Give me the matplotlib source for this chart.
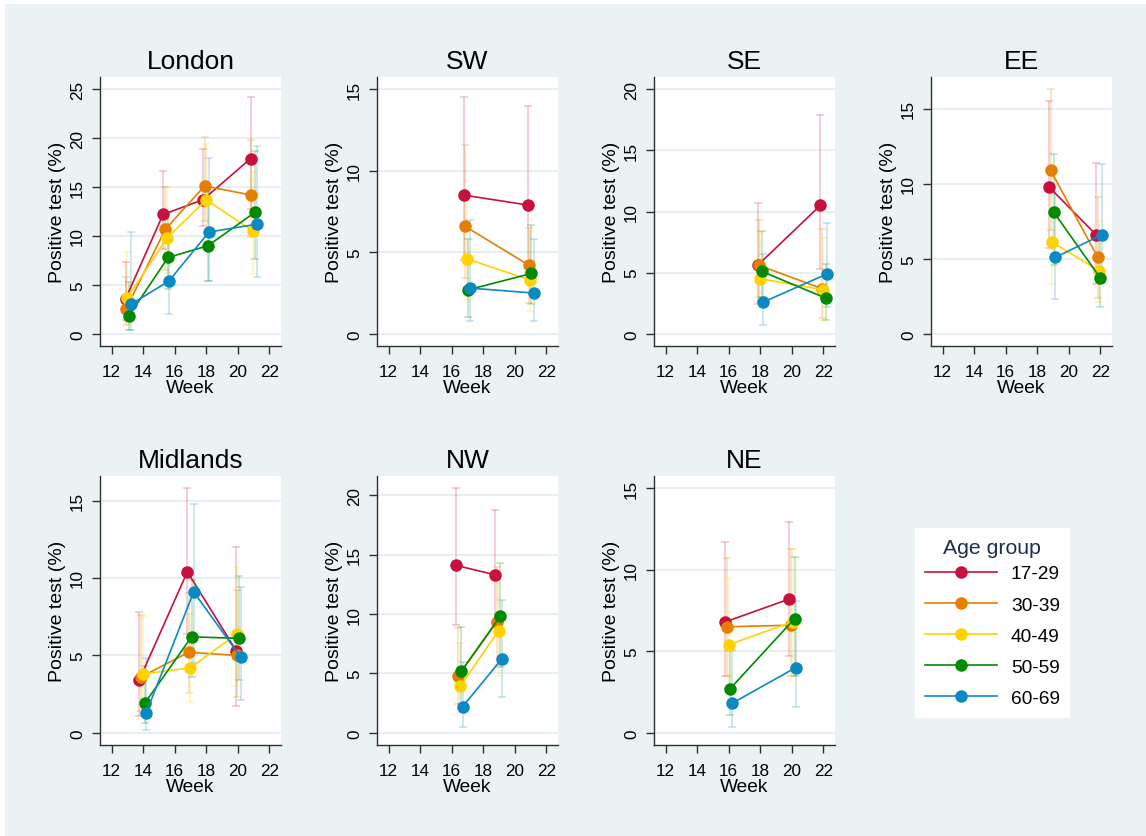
import matplotlib
matplotlib.use("Agg")
import matplotlib.pyplot as plt
from matplotlib.lines import Line2D
from matplotlib.patches import Rectangle

plt.rcParams['font.family'] = ['Liberation Sans', 'DejaVu Sans']

# ---------------- data ----------------
groups = ["17-29", "30-39", "40-49", "50-59", "60-69"]
colors = ["#C8103C", "#E67E00", "#FFD200", "#008A00", "#0A8AC4"]
regions = ["London", "SW", "SE", "EE", "Midlands", "NW", "NE"]
ytop_ticks = [25, 15, 20, 15, 15, 20, 15]
xticks = [12, 14, 16, 18, 20, 22]

# London
london_week = [[12.90, 15.26, 17.79, 20.80], [12.91, 15.41, 17.89, 20.80], [13.01, 15.52, 18.00, 20.95],
               [13.09, 15.58, 18.10, 21.07], [13.22, 15.64, 18.17, 21.20]]
london_pct = [[3.6, 12.2, 13.7, 17.9], [2.5, 10.7, 15.1, 14.2], [3.7, 9.8, 13.7, 10.5],
              [1.8, 7.8, 9.0, 12.4], [3.0, 5.4, 10.4, 11.2]]
london_lo = [[1.4, 8.7, 11.0, 12.8], [0.9, 6.5, 11.5, 9.9], [1.3, 6.2, 9.5, 6.1],
             [0.4, 4.6, 5.4, 7.6], [0.35, 2.0, 5.4, 5.8]]
london_hi = [[7.3, 16.6, 18.9, 24.2], [5.8, 15.0, 20.1, 19.8], [8.4, 15.0, 19.4, 16.5],
             [5.3, 12.3, 14.5, 18.7], [10.4, 11.2, 18.0, 19.2]]

# SW
sw_week = [[16.80, 20.80], [16.83, 20.90], [16.95, 20.95], [17.05, 21.05], [17.18, 21.18]]
sw_pct = [[8.5, 7.9], [6.6, 4.2], [4.6, 3.3], [2.7, 3.7], [2.8, 2.5]]
sw_lo = [[4.5, 3.8], [3.4, 1.9], [2.1, 1.4], [1.0, 1.8], [0.8, 0.8]]
sw_hi = [[14.5, 14.0], [11.6, 6.5], [8.5, 6.3], [5.8, 6.7], [7.0, 5.8]]

# SE
se_week = [[17.84, 21.80], [17.90, 21.90], [18.00, 22.00], [18.10, 22.17], [18.20, 22.24]]
se_pct = [[5.6, 10.5], [5.6, 3.7], [4.5, 3.6], [5.1, 2.9], [2.6, 4.9]]
se_lo = [[2.4, 5.3], [3.0, 1.3], [2.2, 1.1], [3.0, 1.1], [0.7, 2.2]]
se_hi = [[10.7, 17.9], [9.3, 8.6], [8.3, 7.8], [8.4, 5.7], [6.5, 9.1]]

# EE
ee_week = [[18.73, 21.72], [18.84, 21.83], [18.94, 21.93], [19.05, 22.00], [19.15, 22.10]]
ee_pct = [[9.8, 6.6], [10.9, 5.1], [6.1, 4.2], [8.1, 3.7], [5.1, 6.6]]
ee_lo = [[5.7, 3.3], [6.9, 2.4], [3.3, 2.1], [4.6, 1.8], [2.3, 3.4]]
ee_hi = [[15.5, 11.4], [16.3, 9.1], [11.0, 7.5], [12.0, 6.5], [9.5, 11.3]]

# Midlands
mid_week = [[13.75, 16.80, 19.90], [13.85, 16.88, 19.94], [14.00, 16.99, 19.96],
            [14.10, 17.07, 20.06], [14.20, 17.20, 20.17]]
mid_pct = [[3.4, 10.4, 5.3], [3.6, 5.2, 5.0], [3.8, 4.2, 6.4], [1.9, 6.2, 6.1], [1.3, 9.1, 4.9]]
mid_lo = [[1.1, 6.4, 1.7], [1.4, 2.6, 2.3], [1.6, 2.0, 3.0], [0.65, 3.6, 3.4], [0.15, 4.5, 2.1]]
mid_hi = [[7.8, 15.8, 12.0], [7.6, 9.0, 9.2], [7.5, 7.7, 10.7], [4.3, 9.9, 10.1], [4.8, 14.8, 9.4]]

# NW
nw_week = [[16.27, 18.76], [16.42, 18.84], [16.53, 18.97], [16.61, 19.07], [16.69, 19.16]]
nw_pct = [[14.1, 13.3], [4.8, 9.3], [3.9, 8.6], [5.2, 9.8], [2.2, 6.2]]
nw_lo = [[9.1, 9.0], [2.4, 5.7], [1.7, 4.8], [2.4, 5.5], [0.5, 3.0]]
nw_hi = [[20.6, 18.8], [8.8, 14.0], [7.6, 13.5], [8.9, 14.3], [6.0, 11.2]]

# NE
ne_week = [[15.77, 19.83], [15.88, 19.96], [15.99, 20.04], [16.09, 20.17], [16.20, 20.25]]
ne_pct = [[6.8, 8.2], [6.5, 6.6], [5.4, 6.8], [2.7, 7.0], [1.8, 4.0]]
ne_lo = [[3.5, 4.7], [3.5, 3.5], [2.5, 3.5], [1.1, 3.5], [0.35, 1.6]]
ne_hi = [[11.7, 12.9], [10.7, 11.3], [9.5, 11.3], [5.1, 10.8], [5.1, 8.1]]

panel_data = [
    (london_week, london_pct, london_lo, london_hi),
    (sw_week, sw_pct, sw_lo, sw_hi),
    (se_week, se_pct, se_lo, se_hi),
    (ee_week, ee_pct, ee_lo, ee_hi),
    (mid_week, mid_pct, mid_lo, mid_hi),
    (nw_week, nw_pct, nw_lo, nw_hi),
    (ne_week, ne_pct, ne_lo, ne_hi),
]

# ---------------- layout ----------------
W, H = 1146, 837
BG = "#EAF2F3"
fig = plt.figure(figsize=(W / 100, H / 100), dpi=100, facecolor="white")
fig.patches.append(Rectangle((5 / W, 0), 1, (H - 5) / H, transform=fig.transFigure,
                             facecolor=BG, edgecolor="none", zorder=-10))

col_left = [100, 377, 654, 931]
row_top = [78, 477]
aw, ah = 181, 269

spine_col = "#303030"
for i, name in enumerate(regions):
    r, c = divmod(i, 4)
    left = col_left[c]
    top = row_top[r]
    ax = fig.add_axes([left / W, 1 - (top + ah) / H, aw / W, ah / H])
    ax.set_facecolor("white")
    week, pct, lo, hi = panel_data[i]

    for g in range(len(groups)):
        yerr_lo = [p - l for p, l in zip(pct[g], lo[g])]
        yerr_hi = [h - p for p, h in zip(pct[g], hi[g])]
        ax.errorbar(week[g], pct[g], yerr=[yerr_lo, yerr_hi], fmt="none",
                    ecolor=colors[g], alpha=0.22, elinewidth=1.3, capsize=3.2,
                    capthick=1.3, zorder=2)
    for g in range(len(groups)):
        ax.plot(week[g], pct[g], "-o", color=colors[g], lw=1.2, ms=9,
                markeredgewidth=0, zorder=3 + g)

    top_tick = ytop_ticks[i]
    rng = max(top_tick, max(max(h) for h in hi))
    ax.set_ylim(-0.05 * rng, 1.05 * rng)
    ax.set_yticks(list(range(0, top_tick + 1, 5)))
    ax.set_xlim(11.27, 22.73)
    ax.set_xticks(xticks)
    ax.grid(axis="y", color="#E4EEF0", lw=1.3, zorder=0)
    ax.set_axisbelow(True)
    for s in ["top", "right"]:
        ax.spines[s].set_visible(False)
    for s in ["left", "bottom"]:
        ax.spines[s].set_color(spine_col)
        ax.spines[s].set_linewidth(1.0)
    ax.tick_params(axis="both", length=5.8, width=1.0, color=spine_col,
                   labelsize=12.3, labelcolor="black")
    ax.tick_params(axis="y", labelrotation=90, pad=5)
    ax.tick_params(axis="x", pad=7)
    for lab in ax.get_yticklabels():
        lab.set_va("center")
    ax.set_title(name, fontsize=19, pad=6.5)
    ax.set_xlabel("Week", fontsize=13.8, labelpad=0)
    ax.set_ylabel("Positive test (%)", fontsize=14, labelpad=3)

handles = [Line2D([], [], color=colors[g], lw=1.2, marker="o", ms=9,
                  markeredgewidth=0) for g in range(len(groups))]
leg = fig.legend(handles, groups, loc="upper left",
                 bbox_to_anchor=(915 / W, 1 - 529 / H), borderaxespad=0,
                 frameon=True, fancybox=False, facecolor="white",
                 edgecolor="white", framealpha=1, fontsize=13.8,
                 title="Age group", title_fontsize=15.3, handlelength=3.8,
                 handletextpad=0.7, labelspacing=0.72, borderpad=0.5)
leg.get_title().set_color("#1E2D50")
# tighten the gap between the legend title and its first entry
leg._legend_box.sep = 6.0

fig.savefig("out.png", dpi=100, facecolor=fig.get_facecolor())
